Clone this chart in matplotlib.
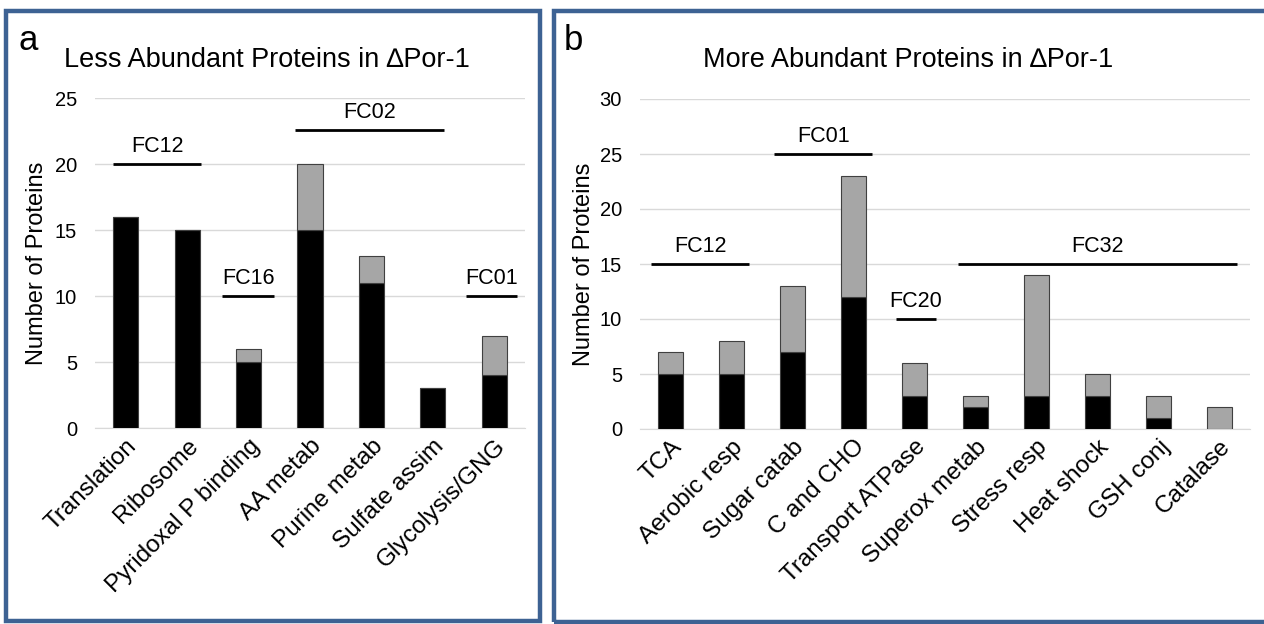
import matplotlib
matplotlib.use("Agg")
import numpy as np
from matplotlib import pyplot as plt
from matplotlib.patches import Rectangle

plt.rcParams['font.family'] = ['Liberation Sans', 'DejaVu Sans']

# Panel a: less abundant proteins
cats_a = ["Translation", "Ribosome", "Pyridoxal P binding", "AA metab",
          "Purine metab", "Sulfate assim", "Glycolysis/GNG"]
black_a = [16, 15, 5, 15, 11, 3, 4]
gray_a = [0, 0, 1, 5, 2, 0, 3]
# (label, x start, x end, y level)
groups_a = [("FC12", -0.2, 1.22, 20), ("FC16", 1.57, 2.42, 10),
            ("FC02", 2.76, 5.18, 22.6), ("FC01", 5.54, 6.37, 10)]

# Panel b: more abundant proteins
cats_b = ["TCA", "Aerobic resp", "Sugar catab", "C and CHO", "Transport ATPase",
          "Superox metab", "Stress resp", "Heat shock", "GSH conj", "Catalase"]
black_b = [5, 5, 7, 12, 3, 2, 3, 3, 1, 0]
gray_b = [2, 3, 6, 11, 3, 1, 11, 2, 2, 2]
groups_b = [("FC12", -0.32, 1.29, 15), ("FC01", 1.70, 3.31, 25),
            ("FC20", 3.70, 4.35, 10), ("FC32", 4.71, 9.29, 15)]

W, H = 1264, 624
fig = plt.figure(figsize=(W / 100, H / 100), dpi=100)

# panel frames
border = "#3D6293"
fig.patches.append(Rectangle((6 / W, 1 - 621 / H), 534 / W, 610 / H,
                             transform=fig.transFigure, fill=False,
                             edgecolor=border, linewidth=3.2))
fig.patches.append(Rectangle((554 / W, 1 - 622 / H), 720 / W, 611 / H,
                             transform=fig.transFigure, fill=False,
                             edgecolor=border, linewidth=3.2))


def draw_panel(rect, cats, black, gray, groups, ymax, title, letter, title_x, letter_x, ylab_x):
    ax = fig.add_axes(rect)
    x = np.arange(len(cats))
    ax.bar(x, black, width=0.41, color="black", edgecolor="#404040", linewidth=0.8, zorder=3)
    ax.bar(x, gray, bottom=black, width=0.41, color="#A6A6A6", edgecolor="#404040",
           linewidth=0.8, zorder=3)
    ax.set_xlim(-0.5, len(cats) - 0.5)
    ax.set_ylim(0, ymax)
    ax.set_yticks(np.arange(0, ymax + 1, 5))
    ax.grid(axis="y", color="#D9D9D9", linewidth=1, zorder=0)
    for s in ["top", "right", "left"]:
        ax.spines[s].set_visible(False)
    ax.spines["bottom"].set_color("#D9D9D9")
    ax.tick_params(axis="y", length=0, labelsize=14.5, pad=13)
    ax.tick_params(axis="x", length=0, pad=5)
    ax.set_xticks(x)
    ax.set_xticklabels(cats, rotation=45, ha="right", rotation_mode="anchor", fontsize=17.5)
    for name, x0, x1, y in groups:
        ax.plot([x0, x1], [y, y], color="black", linewidth=2, solid_capstyle="butt",
                clip_on=False, zorder=4)
        ax.text((x0 + x1) / 2, y + 0.5 * ymax / 25, name, ha="center", va="bottom",
                fontsize=15.5)
    fig.text(title_x, 1 - 60 / H, title, ha="center", va="center", fontsize=19.5)
    fig.text(letter_x, 1 - 40 / H, letter, ha="left", va="center", fontsize=25)
    fig.text(ylab_x, rect[1] + rect[3] / 2, "Number of Proteins", rotation=90,
             ha="center", va="center", fontsize=17)
    return ax


draw_panel([95 / W, 1 - 428 / H, 430 / W, 330 / H], cats_a, black_a, gray_a, groups_a, 25,
           "Less Abundant Proteins in \u2206Por-1", "a", 267 / W, 18 / W, 37 / W)
draw_panel([640 / W, 1 - 429 / H, 610 / W, 330 / H], cats_b, black_b, gray_b, groups_b, 30,
           "More Abundant Proteins in \u2206Por-1", "b", 908 / W, 564 / W, 584 / W)

fig.savefig("out.png", dpi=100)
